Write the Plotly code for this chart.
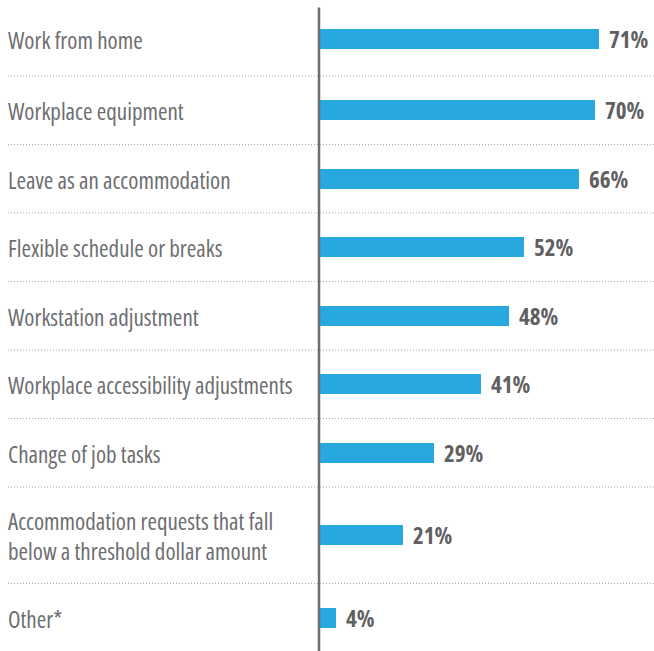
import plotly.graph_objects as go

categories = [
    "Work from home",
    "Workplace equipment",
    "Leave as an accommodation",
    "Flexible schedule or breaks",
    "Workstation adjustment",
    "Workplace accessibility adjustments",
    "Change of job tasks",
    "Accommodation requests that fall<br>below a threshold dollar amount",
    "Other*",
]
values = [71, 70, 66, 52, 48, 41, 29, 21, 4]
value_labels = [f"{v}%" for v in values]

W, H = 654, 651
FONT = "Open Sans, Roboto, sans-serif"
LABEL_COLOR = "#6d6e71"
VALUE_COLOR = "#5f6062"
BAR_COLOR = "#29a8e0"


def cond(t, bold=False):
    inner = f"<b>{t}</b>" if bold else t
    return f"<span style='font-stretch:condensed'>{inner}</span>"


# row layout (in pixel-like units, y grows downward)
top = 7.5
base_h, line_h = 40.5, 28
heights = [base_h + line_h * (c.count("<br>") + 1) for c in categories]
centers, bounds = [], []
y = top
for h in heights:
    centers.append(y + h / 2)
    y += h
    bounds.append(y)
centers[0] -= 3  # first row sits slightly higher

x_left = 320 / W
xmax = (W - 320) / 3.93

fig = go.Figure()
fig.add_trace(go.Bar(
    x=values, y=centers, orientation="h",
    width=20, marker=dict(color=BAR_COLOR, line=dict(width=0)),
    hoverinfo="skip",
))

annotations = []
for c, v, lab, yc in zip(categories, values, value_labels, centers):
    text = "<br>".join(cond(part) for part in c.split("<br>"))
    annotations.append(dict(
        x=6 / W, xref="paper", y=yc + 1, yref="y", text=text, showarrow=False,
        xanchor="left", yanchor="middle", align="left",
        font=dict(family=FONT, size=23, color=LABEL_COLOR),
    ))
    annotations.append(dict(
        x=v, xref="x", y=yc, yref="y", text=cond(lab, bold=True), showarrow=False,
        xanchor="left", yanchor="middle", xshift=8,
        font=dict(family=FONT, size=23, color=VALUE_COLOR),
    ))

shapes = []
for b in bounds[:-1]:
    shapes.append(dict(
        type="line", xref="paper", yref="y", x0=8 / W, x1=1, y0=b, y1=b,
        line=dict(color="#a7a9ac", width=1, dash="1px,2px"), layer="below",
    ))
shapes.append(dict(
    type="line", xref="paper", yref="y", x0=319 / W, x1=319 / W,
    y0=top, y1=H, line=dict(color="#6d6e71", width=2.5), layer="above",
))

fig.update_layout(
    width=W, height=H,
    margin=dict(l=0, r=0, t=0, b=0),
    paper_bgcolor="white", plot_bgcolor="white",
    showlegend=False,
    xaxis=dict(domain=[x_left, 1], range=[0, xmax], visible=False, fixedrange=True),
    yaxis=dict(range=[H, 0], visible=False, fixedrange=True),
    annotations=annotations,
    shapes=shapes,
    bargap=0,
)

fig.write_html("out.html", config={"displayModeBar": False})
